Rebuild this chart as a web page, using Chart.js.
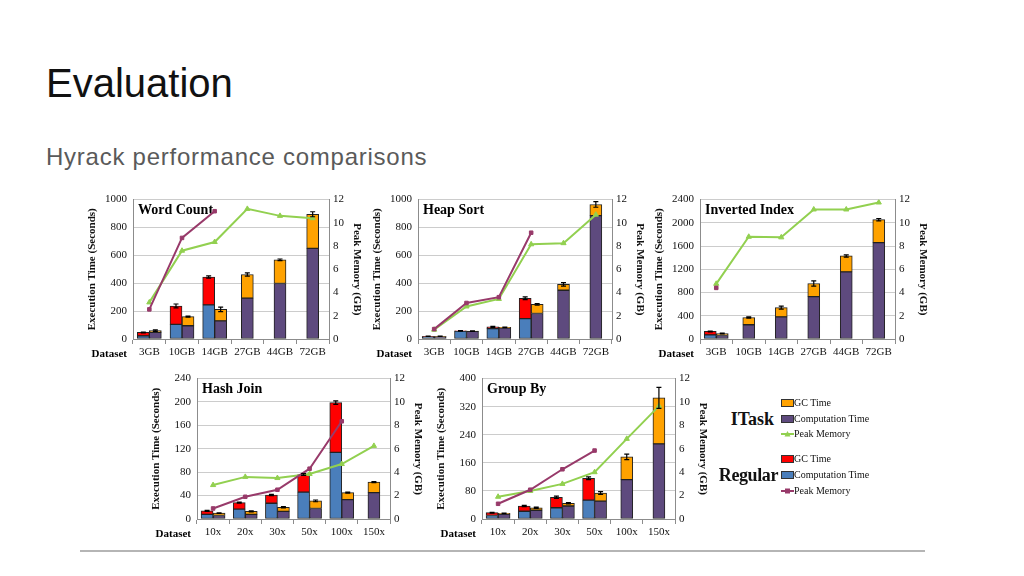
<!DOCTYPE html>
<html><head><meta charset="utf-8">
<script src="https://cdn.jsdelivr.net/npm/chart.js@4.4.0/dist/chart.umd.min.js"></script>
<style>
body{margin:0;width:1024px;height:576px;background:#fff;position:relative;overflow:hidden;font-family:"Liberation Sans",Arial,sans-serif;}
#title{position:absolute;left:46px;top:63px;font-size:40px;line-height:40px;color:#111;}
#sub{position:absolute;left:46px;top:145px;font-size:24px;line-height:24px;color:#5a5a5a;letter-spacing:0.75px;}
#rule{position:absolute;left:80px;top:550px;width:845px;height:2px;background:#b5b5b5;}
canvas{position:absolute;}
.lg{position:absolute;font-family:"Liberation Serif",serif;color:#111;white-space:nowrap;}
.big{font-size:18px;font-weight:bold;line-height:20px;text-align:right;}
.sm{font-size:10px;line-height:12px;}
</style></head>
<body>
<div id="title">Evaluation</div>
<div id="sub">Hyrack performance comparisons</div>
<div id="rule"></div>
<canvas id="c1"></canvas><canvas id="c2"></canvas><canvas id="c3"></canvas><canvas id="c4"></canvas><canvas id="c5"></canvas>
<canvas id="legc" width="20" height="110" style="left:779px;top:392px;"></canvas>
<div class="lg big" style="right:250px;top:409px;">ITask</div>
<div class="lg sm" style="left:794px;top:397px;">GC Time</div>
<div class="lg sm" style="left:794px;top:413px;">Computation Time</div>
<div class="lg sm" style="left:794px;top:428px;">Peak Memory</div>
<div class="lg big" style="right:246px;top:465px;letter-spacing:-0.4px;">Regular</div>
<div class="lg sm" style="left:794px;top:453px;">GC Time</div>
<div class="lg sm" style="left:794px;top:469px;">Computation Time</div>
<div class="lg sm" style="left:794px;top:485px;">Peak Memory</div>
<script>
// ---------- data ----------
const sizeCats = ['3GB','10GB','14GB','27GB','44GB','72GB'];
const scaleCats = ['10x','20x','30x','50x','100x','150x'];

// Word Count
const wcRegComp = [22,105,245,null,null,null];
const wcRegGC   = [25,132,200,null,null,null];
const wcITComp  = [48,95,130,293,398,650];
const wcITGC    = [12,65,83,170,170,245];
const wcRegMem  = [2.55,8.7,11.0,null,null,null];
const wcITMem   = [3.15,7.6,8.35,11.2,10.6,10.4];
const wcRegErr  = [3,14,8,null,null,null];
const wcITErr   = [5,4,16,12,6,18];

// Heap Sort
const hsRegComp = [18,57,75,146,null,null];
const hsRegGC   = [1,2,12,146,null,null];
const hsITComp  = [18,55,80,183,350,885];
const hsITGC    = [1,2,3,65,42,80];
const hsRegMem  = [0.85,3.1,3.6,9.15,null,null];
const hsITMem   = [0.8,2.8,3.45,8.15,8.25,10.7];
const hsRegErr  = [1,2,3,10,null,null];
const hsITErr   = [1,2,2,6,12,20];

// Inverted Index
const iiRegComp = [70,null,null,null,null,null];
const iiRegGC   = [60,null,null,null,null,null];
const iiITComp  = [60,245,380,730,1155,1660];
const iiITGC    = [35,125,160,225,275,395];
const iiRegMem  = [4.4,null,null,null,null,null];
const iiITMem   = [4.75,8.8,8.75,11.15,11.15,11.75];
const iiRegErr  = [8,null,null,null,null,null];
const iiITErr   = [6,10,25,45,20,20];

// Hash Join
const hjRegComp = [8,17,27,46,114,null];
const hjRegGC   = [6,11,14,30,85,null];
const hjITComp  = [6,8,13,18,33,45];
const hjITGC    = [4,5,7,13,12,18];
const hjRegMem  = [0.9,1.9,2.5,4.3,8.35,null];
const hjITMem   = [2.9,3.6,3.5,3.85,4.7,6.25];
const hjRegErr  = [0.8,1,1.2,1.5,3,null];
const hjITErr   = [0.6,0.8,1,1.5,1,1];

// Group By
const gbRegComp = [10,22,32,54,null,null];
const gbRegGC   = [8,15,30,62,null,null];
const gbITComp  = [14,25,37,51,112,214];
const gbITGC    = [2,7,8,23,65,131];
const gbRegMem  = [1.3,2.5,4.25,5.85,null,null];
const gbITMem   = [1.9,2.4,3.0,4.0,6.85,9.65];
const gbRegErr  = [1,2,3,4,null,null];
const gbITErr   = [1,2,2,4,8,30];

// ---------- style ----------
const C = {regGC:'#FF0000', regComp:'#4A7EBB', itGC:'#FFA200', itComp:'#5E4A7E', regMem:'#983A6A', itMem:'#92D050'};
const SERIF = '"Liberation Serif", "Times New Roman", serif';

const decor = {
  id:'decor',
  beforeDatasetsDraw(chart, args, opts){
    const ctx = chart.ctx, a = chart.chartArea;
    ctx.save();
    ctx.fillStyle = '#000';
    ctx.textBaseline = 'middle';
    ctx.font = 'bold 14px ' + SERIF;
    ctx.textAlign = 'left';
    ctx.fillText(opts.title, a.left + 5, a.top + 11);
    ctx.font = 'bold 11px ' + SERIF;
    ctx.textAlign = 'right';
    ctx.fillText('Dataset', a.left - 6, chart.scales.x.top + 15);
    ctx.restore();
  },
  afterDatasetsDraw(chart, args, opts){
    const ctx = chart.ctx, ys = chart.scales.y;
    ctx.save();
    ctx.strokeStyle = '#000'; ctx.lineWidth = 1.2;
    opts.err.forEach(e => {
      const meta = chart.getDatasetMeta(e.ds);
      e.err.forEach((v, i) => {
        if (v == null || e.comp[i] == null) return;
        const tot = e.comp[i] + e.gc[i];
        const x = meta.data[i].x;
        const y1 = ys.getPixelForValue(tot + v), y2 = ys.getPixelForValue(tot - v);
        ctx.beginPath();
        ctx.moveTo(x, y1); ctx.lineTo(x, y2);
        ctx.moveTo(x - 2.5, y1); ctx.lineTo(x + 2.5, y1);
        ctx.moveTo(x - 2.5, y2); ctx.lineTo(x + 2.5, y2);
        ctx.stroke();
      });
    });
    ctx.restore();
  }
};

const L = 47, R = 34, T = 12.6, B = 22;

function makeChart(id, pos, title, cats, ymax, ystep, d) {
  const cv = document.getElementById(id);
  const w = pos.w + L + R, h = Math.round(pos.h + T + B);
  cv.width = w; cv.height = h;
  cv.style.left = (pos.x - L) + 'px'; cv.style.top = Math.round(pos.y - T) + 'px';
  const bar = (label, data, color, stack) => ({type:'bar', label, data, backgroundColor:color, borderColor:'#222', borderWidth:1, borderSkipped:false, stack, order:2, barThickness:12, skipNull:true, yAxisID:'y'});
  const line = (label, data, color, ps) => ({type:'line', label, data, borderColor:color, backgroundColor:color, borderWidth:2, pointStyle:ps, pointRadius:ps === 'rect' ? 2.5 : 3, pointBorderWidth:1, order:0, yAxisID:'y2', spanGaps:false});
  const tickFont = {family:SERIF, size:11};
  const titleFont = {family:SERIF, size:11, weight:'bold'};
  return new Chart(cv, {
    type:'bar',
    data:{
      labels:cats,
      datasets:[
        bar('Regular Computation Time', d.regComp, C.regComp, 'reg'),
        bar('Regular GC Time', d.regGC, C.regGC, 'reg'),
        bar('ITask Computation Time', d.itComp, C.itComp, 'it'),
        bar('ITask GC Time', d.itGC, C.itGC, 'it'),
        line('Regular Peak Memory', d.regMem, C.regMem, 'rect'),
        line('ITask Peak Memory', d.itMem, C.itMem, 'triangle')
      ]
    },
    options:{
      responsive:false, animation:false, devicePixelRatio:1,
      layout:{padding:0},
      plugins:{legend:{display:false}, tooltip:{enabled:false},
        decor:{title, err:[{ds:1, comp:d.regComp, gc:d.regGC, err:d.regErr},{ds:3, comp:d.itComp, gc:d.itGC, err:d.itErr}]}},
      scales:{
        x:{type:'category', offset:true, stacked:true,
           grid:{offset:true, drawOnChartArea:false, tickLength:5, color:'#8c8c8c'},
           border:{color:'#8c8c8c'},
           ticks:{font:tickFont, color:'#111', padding:2, maxRotation:0, autoSkip:false},
           afterFit(s){ s.height = B; }},
        y:{position:'left', stacked:true, min:0, max:ymax,
           ticks:{stepSize:ystep, font:tickFont, color:'#111', padding:6, callback:v => String(v)},
           grid:{color:'#cccccc', drawTicks:false},
           border:{color:'#8c8c8c'},
           title:{display:true, text:'Execution Time (Seconds)', font:titleFont, color:'#111', padding:{top:0,bottom:0}},
           afterFit(s){ s.width = L; }},
        y2:{position:'right', min:0, max:12,
           ticks:{stepSize:2, font:tickFont, color:'#111', padding:4, callback:v => String(v)},
           grid:{drawOnChartArea:false, drawTicks:false},
           border:{color:'#8c8c8c'},
           title:{display:true, text:'Peak Memory (GB)', font:titleFont, color:'#111', padding:{top:0,bottom:0}},
           afterFit(s){ s.width = R; }}
      }
    },
    plugins:[decor]
  });
}

makeChart('c1', {x:133, y:200, w:196, h:139}, 'Word Count', sizeCats, 1000, 200,
  {regComp:wcRegComp, regGC:wcRegGC, itComp:wcITComp, itGC:wcITGC, regMem:wcRegMem, itMem:wcITMem, regErr:wcRegErr, itErr:wcITErr});
makeChart('c2', {x:418, y:200, w:194, h:139}, 'Heap Sort', sizeCats, 1000, 200,
  {regComp:hsRegComp, regGC:hsRegGC, itComp:hsITComp, itGC:hsITGC, regMem:hsRegMem, itMem:hsITMem, regErr:hsRegErr, itErr:hsITErr});
makeChart('c3', {x:700, y:200, w:195, h:139}, 'Inverted Index', sizeCats, 2400, 400,
  {regComp:iiRegComp, regGC:iiRegGC, itComp:iiITComp, itGC:iiITGC, regMem:iiRegMem, itMem:iiITMem, regErr:iiRegErr, itErr:iiITErr});
makeChart('c4', {x:197, y:379, w:193, h:140}, 'Hash Join', scaleCats, 240, 40,
  {regComp:hjRegComp, regGC:hjRegGC, itComp:hjITComp, itGC:hjITGC, regMem:hjRegMem, itMem:hjITMem, regErr:hjRegErr, itErr:hjITErr});
makeChart('c5', {x:482, y:379, w:193, h:140}, 'Group By', scaleCats, 400, 80,
  {regComp:gbRegComp, regGC:gbRegGC, itComp:gbITComp, itGC:gbITGC, regMem:gbRegMem, itMem:gbITMem, regErr:gbRegErr, itErr:gbITErr});

// legend swatches
(function(){
  const ctx = document.getElementById('legc').getContext('2d');
  function sw(y, c){ ctx.fillStyle = c; ctx.fillRect(2.5, y - 3.5, 12, 7); ctx.strokeStyle = '#333'; ctx.lineWidth = 1; ctx.strokeRect(2.5, y - 3.5, 12, 7); }
  function ln(y, c, tri){ ctx.strokeStyle = c; ctx.lineWidth = 2; ctx.beginPath(); ctx.moveTo(2, y); ctx.lineTo(15, y); ctx.stroke(); ctx.fillStyle = c;
    if (tri){ ctx.beginPath(); ctx.moveTo(8.5, y - 3); ctx.lineTo(11.5, y + 2.5); ctx.lineTo(5.5, y + 2.5); ctx.closePath(); ctx.fill(); }
    else { ctx.fillRect(6, y - 2.5, 5, 5); } }
  sw(11, C.itGC); sw(27, C.itComp); ln(42, C.itMem, true);
  sw(67, C.regGC); sw(83, C.regComp); ln(99, C.regMem, false);
})();
</script>
</body></html>
